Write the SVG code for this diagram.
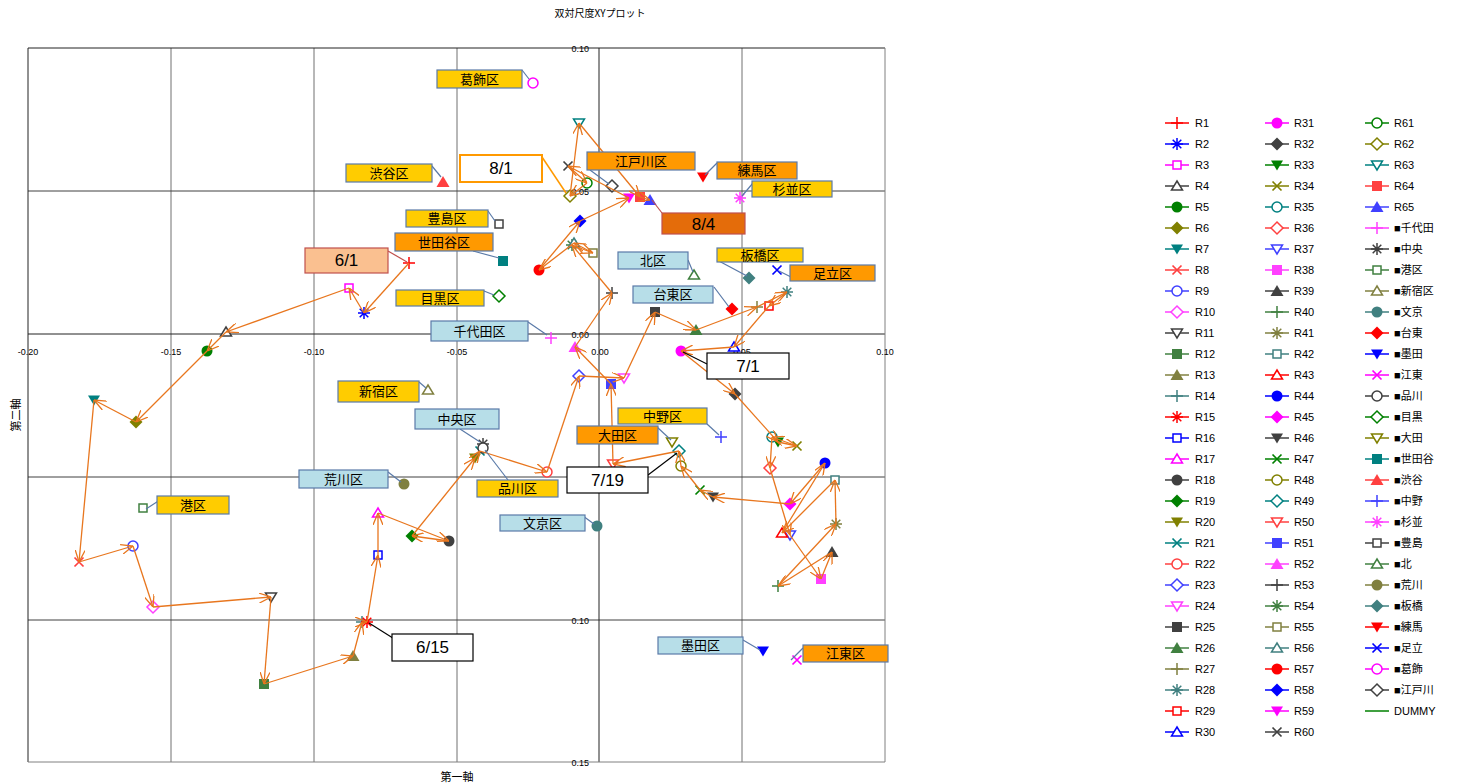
<svg xmlns="http://www.w3.org/2000/svg" width="1460" height="784" viewBox="0 0 1460 784">
<style>
.c0{color:#FF0000}.c1{color:#0000FF}.c2{color:#FF00FF}.c3{color:#404040}.c4{color:#008000}.c5{color:#808000}.c6{color:#008080}
.c7{color:#FF4040}.c8{color:#4040FF}.c9{color:#FF40FF}.c10{color:#404040}.c11{color:#408040}.c12{color:#808040}.c13{color:#408080}
.st{fill:none;stroke:currentColor;stroke-width:1.5}
.op{fill:#fff;stroke:currentColor;stroke-width:1.5}
.fl{fill:currentColor}
.gh{stroke:#404040;stroke-width:1}
.gv{stroke:#707070;stroke-width:1}
.tick{font-family:"Liberation Sans",Arial,sans-serif;font-size:9px;fill:#000}
.jp{font-family:"Noto Sans CJK JP","Noto Sans",sans-serif;fill:#000}
.arr line{stroke:#E8761E;stroke-width:1.3;marker-end:url(#ah)}
.lb rect{stroke:#5A7AA8;stroke-width:1.2}
.lb line{stroke:#5A7AA8;stroke-width:1.2}
.lb text{font-family:"Noto Sans CJK JP","Noto Sans",sans-serif;font-size:13px;fill:#000;text-anchor:middle}
.y{fill:#FFCC00}.o{fill:#FF9900}.b{fill:#B7DEE8}
.dt text{font-family:"Liberation Sans",Arial,sans-serif;font-size:17px;fill:#000;text-anchor:middle}
#legend line{stroke:currentColor;stroke-width:1.5}
#legend text{font-family:"Liberation Sans","Noto Sans CJK JP",sans-serif;font-size:11px;fill:#000}
</style>
<defs>
<marker id="ah" viewBox="0 0 12 10" refX="12" refY="5" markerWidth="12" markerHeight="10" orient="auto" markerUnits="userSpaceOnUse"><path d="M0,0L12,5L0,10" fill="none" stroke="#E8761E" stroke-width="1.3"/></marker>
<g id="m0"><path class="st" d="M-6,0H6M0,-6V6"/></g>
<g id="m1"><path class="st" d="M-6,0H6M0,-6V6M-4.3,-4.3L4.3,4.3M-4.3,4.3L4.3,-4.3"/></g>
<g id="m2"><rect class="op" x="-4" y="-4" width="8" height="8"/></g>
<g id="m3"><path class="op" d="M0,-5L5.5,4H-5.5Z"/></g>
<g id="m4"><circle class="fl" r="5.5"/></g>
<g id="m5"><path class="fl" d="M0,-6.5L6.5,0L0,6.5L-6.5,0Z"/></g>
<g id="m6"><path class="fl" d="M-6,-4.5H6L0,5.5Z"/></g>
<g id="m7"><path class="st" style="stroke-width:1.7" d="M-4.5,-4.5L4.5,4.5M-4.5,4.5L4.5,-4.5"/></g>
<g id="m8"><circle class="op" r="5"/></g>
<g id="m9"><path class="op" d="M0,-6L6,0L0,6L-6,0Z"/></g>
<g id="m10"><path class="op" d="M-5.5,-4H5.5L0,5Z"/></g>
<g id="m11"><rect class="fl" x="-5" y="-5" width="10" height="10"/></g>
<g id="m12"><path class="fl" d="M0,-6L6.5,5H-6.5Z"/></g>
</defs>
<rect width="1460" height="784" fill="#fff"/>
<text class="jp" x="600" y="17" font-size="10" text-anchor="middle">双対尺度XYプロット</text>
<g id="grid">
<line class="gv" x1="171" y1="48" x2="171" y2="762"/>
<line class="gv" x1="314" y1="48" x2="314" y2="762"/>
<line class="gv" x1="457" y1="48" x2="457" y2="762"/>
<line class="gv" x1="742" y1="48" x2="742" y2="762"/>
<line class="gh" x1="28" y1="191" x2="885" y2="191"/>
<line class="gh" x1="28" y1="477" x2="885" y2="477"/>
<line class="gh" x1="28" y1="620" x2="885" y2="620"/>
<line x1="28" y1="334" x2="885" y2="334" stroke="#222"/>
<line x1="599" y1="48" x2="599" y2="762" stroke="#222"/>
<path d="M28,762V48H885" fill="none" stroke="#222"/>
<path d="M885,48V762H28" fill="none" stroke="#808080"/>
</g>
<g id="ticks" class="tick">
<text x="28" y="355" text-anchor="middle">-0.20</text>
<text x="171" y="355" text-anchor="middle">-0.15</text>
<text x="314" y="355" text-anchor="middle">-0.10</text>
<text x="457" y="355" text-anchor="middle">-0.05</text>
<text x="600" y="355" text-anchor="middle">0.00</text>
<text x="742" y="355" text-anchor="middle">0.05</text>
<text x="885" y="355" text-anchor="middle">0.10</text>
<text x="589" y="52" text-anchor="end">0.10</text>
<text x="589" y="195" text-anchor="end">0.05</text>
<text x="589" y="338" text-anchor="end">0.00</text>
<text x="589" y="481" text-anchor="end">0.05</text>
<text x="589" y="624" text-anchor="end">0.10</text>
<text x="589" y="766" text-anchor="end">0.15</text>
</g>
<text class="jp" x="457" y="781" font-size="11" text-anchor="middle">第一軸</text>
<text class="jp" font-size="11" text-anchor="middle" transform="translate(20,415) rotate(-90)">第二軸</text>
<g id="points">
<use href="#m0" class="c0" x="409" y="263"/>
<use href="#m1" class="c1" x="364" y="313"/>
<use href="#m2" class="c2" x="349" y="288"/>
<use href="#m3" class="c3" x="226" y="332"/>
<use href="#m4" class="c4" x="207" y="351"/>
<use href="#m5" class="c5" x="136" y="422"/>
<use href="#m6" class="c6" x="94" y="400"/>
<use href="#m7" class="c7" x="79" y="562"/>
<use href="#m8" class="c8" x="133" y="546"/>
<use href="#m9" class="c9" x="153" y="607"/>
<use href="#m10" class="c10" x="271" y="597"/>
<use href="#m11" class="c11" x="264" y="684"/>
<use href="#m12" class="c12" x="353" y="656"/>
<use href="#m0" class="c13" x="362" y="622"/>
<use href="#m1" class="c0" x="367" y="622"/>
<use href="#m2" class="c1" x="378" y="555"/>
<use href="#m3" class="c2" x="378" y="513"/>
<use href="#m4" class="c3" x="449" y="541"/>
<use href="#m5" class="c4" x="412" y="536"/>
<use href="#m6" class="c5" x="475" y="458"/>
<use href="#m7" class="c6" x="480" y="451"/>
<use href="#m8" class="c7" x="547" y="472"/>
<use href="#m9" class="c8" x="579" y="376"/>
<use href="#m10" class="c9" x="624" y="378"/>
<use href="#m11" class="c10" x="655" y="312"/>
<use href="#m12" class="c11" x="696" y="330"/>
<use href="#m0" class="c12" x="757" y="307"/>
<use href="#m1" class="c13" x="787" y="292"/>
<use href="#m2" class="c0" x="769" y="306"/>
<use href="#m3" class="c1" x="734" y="347"/>
<use href="#m4" class="c2" x="681" y="351"/>
<use href="#m5" class="c3" x="735" y="394"/>
<use href="#m6" class="c4" x="778" y="442"/>
<use href="#m7" class="c5" x="797" y="446"/>
<use href="#m8" class="c6" x="772" y="437"/>
<use href="#m9" class="c7" x="770" y="468"/>
<use href="#m10" class="c8" x="790" y="535"/>
<use href="#m11" class="c9" x="821" y="579"/>
<use href="#m12" class="c10" x="832" y="552"/>
<use href="#m0" class="c11" x="778" y="586"/>
<use href="#m1" class="c12" x="836" y="524"/>
<use href="#m2" class="c13" x="835" y="480"/>
<use href="#m3" class="c0" x="782" y="533"/>
<use href="#m4" class="c1" x="825" y="463"/>
<use href="#m5" class="c2" x="790" y="504"/>
<use href="#m6" class="c3" x="713" y="497"/>
<use href="#m7" class="c4" x="700" y="490"/>
<use href="#m8" class="c5" x="681" y="466"/>
<use href="#m9" class="c6" x="679" y="451"/>
<use href="#m10" class="c7" x="613" y="464"/>
<use href="#m11" class="c8" x="611" y="384"/>
<use href="#m12" class="c9" x="575" y="347"/>
<use href="#m0" class="c10" x="612" y="293"/>
<use href="#m1" class="c11" x="572" y="245"/>
<use href="#m2" class="c12" x="593" y="253"/>
<use href="#m3" class="c13" x="574" y="243"/>
<use href="#m4" class="c0" x="539" y="270"/>
<use href="#m5" class="c1" x="580" y="221"/>
<use href="#m6" class="c2" x="629" y="198"/>
<use href="#m7" class="c3" x="568" y="166"/>
<use href="#m8" class="c4" x="587" y="183"/>
<use href="#m9" class="c5" x="570" y="196"/>
<use href="#m10" class="c6" x="579" y="123"/>
<use href="#m11" class="c7" x="640" y="197"/>
<use href="#m12" class="c8" x="650" y="200"/>
<use href="#m0" class="c9" x="551" y="338"/>
<use href="#m1" class="c10" x="483" y="444"/>
<use href="#m2" class="c11" x="143" y="508"/>
<use href="#m3" class="c12" x="428" y="390"/>
<use href="#m4" class="c13" x="597" y="526"/>
<use href="#m5" class="c0" x="732" y="309"/>
<use href="#m6" class="c1" x="763" y="651"/>
<use href="#m7" class="c2" x="797" y="660"/>
<use href="#m8" class="c3" x="483" y="448"/>
<use href="#m9" class="c4" x="499" y="296"/>
<use href="#m10" class="c5" x="672" y="442"/>
<use href="#m11" class="c6" x="503" y="261"/>
<use href="#m12" class="c7" x="443" y="182"/>
<use href="#m0" class="c8" x="721" y="437"/>
<use href="#m1" class="c9" x="740" y="198"/>
<use href="#m2" class="c10" x="499" y="224"/>
<use href="#m3" class="c11" x="694" y="275"/>
<use href="#m4" class="c12" x="404" y="484"/>
<use href="#m5" class="c13" x="749" y="278"/>
<use href="#m6" class="c0" x="703" y="177"/>
<use href="#m7" class="c1" x="777" y="270"/>
<use href="#m8" class="c2" x="533" y="83"/>
<use href="#m9" class="c3" x="612" y="186"/>
</g>
<g id="connectors" class="arr">
<line x1="409" y1="263" x2="364" y2="313"/>
<line x1="364" y1="313" x2="349" y2="288"/>
<line x1="349" y1="288" x2="226" y2="332"/>
<line x1="226" y1="332" x2="207" y2="351"/>
<line x1="207" y1="351" x2="136" y2="422"/>
<line x1="136" y1="422" x2="94" y2="400"/>
<line x1="94" y1="400" x2="79" y2="562"/>
<line x1="79" y1="562" x2="133" y2="546"/>
<line x1="133" y1="546" x2="153" y2="607"/>
<line x1="153" y1="607" x2="271" y2="597"/>
<line x1="271" y1="597" x2="264" y2="684"/>
<line x1="264" y1="684" x2="353" y2="656"/>
<line x1="353" y1="656" x2="362" y2="622"/>
<line x1="362" y1="622" x2="367" y2="622"/>
<line x1="367" y1="622" x2="378" y2="555"/>
<line x1="378" y1="555" x2="378" y2="513"/>
<line x1="378" y1="513" x2="449" y2="541"/>
<line x1="449" y1="541" x2="412" y2="536"/>
<line x1="412" y1="536" x2="475" y2="458"/>
<line x1="475" y1="458" x2="480" y2="451"/>
<line x1="480" y1="451" x2="547" y2="472"/>
<line x1="547" y1="472" x2="579" y2="376"/>
<line x1="579" y1="376" x2="624" y2="378"/>
<line x1="624" y1="378" x2="655" y2="312"/>
<line x1="655" y1="312" x2="696" y2="330"/>
<line x1="696" y1="330" x2="757" y2="307"/>
<line x1="757" y1="307" x2="787" y2="292"/>
<line x1="787" y1="292" x2="769" y2="306"/>
<line x1="769" y1="306" x2="734" y2="347"/>
<line x1="734" y1="347" x2="681" y2="351"/>
<line x1="681" y1="351" x2="735" y2="394"/>
<line x1="735" y1="394" x2="778" y2="442"/>
<line x1="778" y1="442" x2="797" y2="446"/>
<line x1="797" y1="446" x2="772" y2="437"/>
<line x1="772" y1="437" x2="770" y2="468"/>
<line x1="770" y1="468" x2="790" y2="535"/>
<line x1="790" y1="535" x2="821" y2="579"/>
<line x1="821" y1="579" x2="832" y2="552"/>
<line x1="832" y1="552" x2="778" y2="586"/>
<line x1="778" y1="586" x2="836" y2="524"/>
<line x1="836" y1="524" x2="835" y2="480"/>
<line x1="835" y1="480" x2="782" y2="533"/>
<line x1="782" y1="533" x2="825" y2="463"/>
<line x1="825" y1="463" x2="790" y2="504"/>
<line x1="790" y1="504" x2="713" y2="497"/>
<line x1="713" y1="497" x2="700" y2="490"/>
<line x1="700" y1="490" x2="681" y2="466"/>
<line x1="681" y1="466" x2="679" y2="451"/>
<line x1="679" y1="451" x2="613" y2="464"/>
<line x1="613" y1="464" x2="611" y2="384"/>
<line x1="611" y1="384" x2="575" y2="347"/>
<line x1="575" y1="347" x2="612" y2="293"/>
<line x1="612" y1="293" x2="572" y2="245"/>
<line x1="572" y1="245" x2="593" y2="253"/>
<line x1="593" y1="253" x2="574" y2="243"/>
<line x1="574" y1="243" x2="539" y2="270"/>
<line x1="539" y1="270" x2="580" y2="221"/>
<line x1="580" y1="221" x2="629" y2="198"/>
<line x1="629" y1="198" x2="568" y2="166"/>
<line x1="568" y1="166" x2="587" y2="183"/>
<line x1="587" y1="183" x2="570" y2="196"/>
<line x1="570" y1="196" x2="579" y2="123"/>
<line x1="579" y1="123" x2="640" y2="197"/>
<line x1="640" y1="197" x2="650" y2="200"/>
</g>
<g id="labels" class="lb">
<g id="lbl-katsushika"><line x1="522" y1="70" x2="529" y2="79"/><rect class="y" x="437" y="70" width="85" height="18"/><text x="479.5" y="84">葛飾区</text></g>
<g id="lbl-shibuya"><line x1="432" y1="166" x2="441" y2="177"/><rect class="y" x="346" y="164" width="86" height="18"/><text x="389" y="178">渋谷区</text></g>
<g id="lbl-toshima"><line x1="488" y1="211" x2="495" y2="221"/><rect class="y" x="406" y="210" width="82" height="17"/><text x="447" y="223">豊島区</text></g>
<g id="lbl-setagaya"><line x1="473" y1="251" x2="499" y2="258"/><rect class="o" x="395" y="233" width="98" height="18"/><text x="444" y="247">世田谷区</text></g>
<g id="lbl-meguro"><line x1="484" y1="291" x2="494" y2="295"/><rect class="y" x="396" y="290" width="88" height="16"/><text x="440" y="303">目黒区</text></g>
<g id="lbl-chiyoda"><line x1="528" y1="322" x2="547" y2="335"/><rect class="b" x="431" y="321" width="97" height="20"/><text x="479.5" y="336">千代田区</text></g>
<g id="lbl-shinjuku"><line x1="419" y1="382" x2="426" y2="388"/><rect class="y" x="338" y="381" width="81" height="21"/><text x="378.5" y="396">新宿区</text></g>
<g id="lbl-chuo"><line x1="460" y1="429" x2="480" y2="442"/><rect class="b" x="415" y="409" width="84" height="20"/><text x="457" y="424">中央区</text></g>
<g id="lbl-arakawa"><line x1="388" y1="472" x2="401" y2="482"/><rect class="b" x="299" y="470" width="89" height="18"/><text x="343.5" y="484">荒川区</text></g>
<g id="lbl-shinagawa"><line x1="508" y1="480" x2="485" y2="450"/><rect class="y" x="477" y="480" width="81" height="17"/><text x="517.5" y="493">品川区</text></g>
<g id="lbl-bunkyo"><line x1="583" y1="516" x2="594" y2="524"/><rect class="b" x="500" y="515" width="85" height="16"/><text x="542.5" y="528">文京区</text></g>
<g id="lbl-minato"><line x1="163" y1="498" x2="146" y2="509"/><rect class="y" x="157" y="496" width="72" height="18"/><text x="193" y="510">港区</text></g>
<g id="lbl-edogawa"><line x1="590" y1="170" x2="609" y2="184"/><rect class="o" x="587" y="152" width="108" height="18"/><text x="641" y="166">江戸川区</text></g>
<g id="lbl-nerima"><line x1="717" y1="163" x2="705" y2="175"/><rect class="o" x="717" y="162" width="80" height="17"/><text x="757" y="175">練馬区</text></g>
<g id="lbl-suginami"><line x1="753" y1="183" x2="742" y2="196"/><rect class="y" x="752" y="181" width="80" height="16"/><text x="792" y="194">杉並区</text></g>
<g id="lbl-kita"><line x1="688" y1="260" x2="693" y2="272"/><rect class="b" x="618" y="252" width="70" height="17"/><text x="653" y="265">北区</text></g>
<g id="lbl-itabashi"><line x1="717" y1="260" x2="747" y2="276"/><rect class="y" x="717" y="248" width="86" height="14"/><text x="760" y="260">板橋区</text></g>
<g id="lbl-adachi"><line x1="797" y1="280" x2="779" y2="271"/><rect class="o" x="790" y="265" width="85" height="16"/><text x="832.5" y="278">足立区</text></g>
<g id="lbl-taito"><line x1="714" y1="287" x2="729" y2="307"/><rect class="b" x="633" y="286" width="80" height="17"/><text x="673" y="299">台東区</text></g>
<g id="lbl-nakano"><line x1="707" y1="424" x2="719" y2="435"/><rect class="y" x="618" y="408" width="89" height="16"/><text x="662.5" y="421">中野区</text></g>
<g id="lbl-ota"><line x1="657" y1="427" x2="671" y2="440"/><rect class="o" x="577" y="426" width="81" height="18"/><text x="617.5" y="440">大田区</text></g>
<g id="lbl-sumida"><line x1="743" y1="640" x2="760" y2="650"/><rect class="b" x="658" y="637" width="85" height="17"/><text x="700.5" y="650">墨田区</text></g>
<g id="lbl-koto"><line x1="803" y1="648" x2="791" y2="660"/><rect class="o" x="803" y="645" width="85" height="17"/><text x="845.5" y="658">江東区</text></g>
</g>
<g id="dates" class="dt">
<g id="d-0601"><line x1="388" y1="251" x2="407" y2="262" stroke="#C0504D" stroke-width="1.2"/><rect x="305" y="248" width="83" height="25" fill="#FAC090" stroke="#C0504D" stroke-width="1.2"/><text x="346.5" y="266">6/1</text></g>
<g id="d-0801"><line x1="542" y1="157" x2="566" y2="193" stroke="#FF9900" stroke-width="1.5"/><rect x="460" y="155" width="82" height="27" fill="#fff" stroke="#FF9900" stroke-width="2"/><text x="501" y="174">8/1</text></g>
<g id="d-0804"><line x1="662" y1="213" x2="652" y2="200" stroke="#C0504D" stroke-width="1.2"/><rect x="662" y="213" width="83" height="21" fill="#E46C0A" stroke="#C0504D" stroke-width="1.2"/><text x="703.5" y="230">8/4</text></g>
<g id="d-0701"><line x1="707" y1="364" x2="683" y2="352" stroke="#000" stroke-width="1.2"/><rect x="707" y="353" width="82" height="26" fill="#fff" stroke="#000" stroke-width="1.2"/><text x="748" y="372">7/1</text></g>
<g id="d-0719"><line x1="648" y1="475" x2="677" y2="453" stroke="#000" stroke-width="1.2"/><rect x="567" y="467" width="81" height="26" fill="#fff" stroke="#000" stroke-width="1.2"/><text x="607.5" y="486">7/19</text></g>
<g id="d-0615"><line x1="396" y1="640" x2="369" y2="623" stroke="#000" stroke-width="1.2"/><rect x="392" y="634" width="81" height="27" fill="#fff" stroke="#000" stroke-width="1.2"/><text x="432.5" y="653">6/15</text></g>
</g>
<g id="legend">
<g class="c0" transform="translate(1165,123)"><line x2="24"/><use href="#m0" x="12"/><text x="30" y="4">R1</text></g>
<g class="c1" transform="translate(1165,144)"><line x2="24"/><use href="#m1" x="12"/><text x="30" y="4">R2</text></g>
<g class="c2" transform="translate(1165,165)"><line x2="24"/><use href="#m2" x="12"/><text x="30" y="4">R3</text></g>
<g class="c3" transform="translate(1165,186)"><line x2="24"/><use href="#m3" x="12"/><text x="30" y="4">R4</text></g>
<g class="c4" transform="translate(1165,207)"><line x2="24"/><use href="#m4" x="12"/><text x="30" y="4">R5</text></g>
<g class="c5" transform="translate(1165,228)"><line x2="24"/><use href="#m5" x="12"/><text x="30" y="4">R6</text></g>
<g class="c6" transform="translate(1165,249)"><line x2="24"/><use href="#m6" x="12"/><text x="30" y="4">R7</text></g>
<g class="c7" transform="translate(1165,270)"><line x2="24"/><use href="#m7" x="12"/><text x="30" y="4">R8</text></g>
<g class="c8" transform="translate(1165,291)"><line x2="24"/><use href="#m8" x="12"/><text x="30" y="4">R9</text></g>
<g class="c9" transform="translate(1165,312)"><line x2="24"/><use href="#m9" x="12"/><text x="30" y="4">R10</text></g>
<g class="c10" transform="translate(1165,333)"><line x2="24"/><use href="#m10" x="12"/><text x="30" y="4">R11</text></g>
<g class="c11" transform="translate(1165,354)"><line x2="24"/><use href="#m11" x="12"/><text x="30" y="4">R12</text></g>
<g class="c12" transform="translate(1165,375)"><line x2="24"/><use href="#m12" x="12"/><text x="30" y="4">R13</text></g>
<g class="c13" transform="translate(1165,396)"><line x2="24"/><use href="#m0" x="12"/><text x="30" y="4">R14</text></g>
<g class="c0" transform="translate(1165,417)"><line x2="24"/><use href="#m1" x="12"/><text x="30" y="4">R15</text></g>
<g class="c1" transform="translate(1165,438)"><line x2="24"/><use href="#m2" x="12"/><text x="30" y="4">R16</text></g>
<g class="c2" transform="translate(1165,459)"><line x2="24"/><use href="#m3" x="12"/><text x="30" y="4">R17</text></g>
<g class="c3" transform="translate(1165,480)"><line x2="24"/><use href="#m4" x="12"/><text x="30" y="4">R18</text></g>
<g class="c4" transform="translate(1165,501)"><line x2="24"/><use href="#m5" x="12"/><text x="30" y="4">R19</text></g>
<g class="c5" transform="translate(1165,522)"><line x2="24"/><use href="#m6" x="12"/><text x="30" y="4">R20</text></g>
<g class="c6" transform="translate(1165,543)"><line x2="24"/><use href="#m7" x="12"/><text x="30" y="4">R21</text></g>
<g class="c7" transform="translate(1165,564)"><line x2="24"/><use href="#m8" x="12"/><text x="30" y="4">R22</text></g>
<g class="c8" transform="translate(1165,585)"><line x2="24"/><use href="#m9" x="12"/><text x="30" y="4">R23</text></g>
<g class="c9" transform="translate(1165,606)"><line x2="24"/><use href="#m10" x="12"/><text x="30" y="4">R24</text></g>
<g class="c10" transform="translate(1165,627)"><line x2="24"/><use href="#m11" x="12"/><text x="30" y="4">R25</text></g>
<g class="c11" transform="translate(1165,648)"><line x2="24"/><use href="#m12" x="12"/><text x="30" y="4">R26</text></g>
<g class="c12" transform="translate(1165,669)"><line x2="24"/><use href="#m0" x="12"/><text x="30" y="4">R27</text></g>
<g class="c13" transform="translate(1165,690)"><line x2="24"/><use href="#m1" x="12"/><text x="30" y="4">R28</text></g>
<g class="c0" transform="translate(1165,711)"><line x2="24"/><use href="#m2" x="12"/><text x="30" y="4">R29</text></g>
<g class="c1" transform="translate(1165,732)"><line x2="24"/><use href="#m3" x="12"/><text x="30" y="4">R30</text></g>
<g class="c2" transform="translate(1265,123)"><line x2="24"/><use href="#m4" x="12"/><text x="29" y="4">R31</text></g>
<g class="c3" transform="translate(1265,144)"><line x2="24"/><use href="#m5" x="12"/><text x="29" y="4">R32</text></g>
<g class="c4" transform="translate(1265,165)"><line x2="24"/><use href="#m6" x="12"/><text x="29" y="4">R33</text></g>
<g class="c5" transform="translate(1265,186)"><line x2="24"/><use href="#m7" x="12"/><text x="29" y="4">R34</text></g>
<g class="c6" transform="translate(1265,207)"><line x2="24"/><use href="#m8" x="12"/><text x="29" y="4">R35</text></g>
<g class="c7" transform="translate(1265,228)"><line x2="24"/><use href="#m9" x="12"/><text x="29" y="4">R36</text></g>
<g class="c8" transform="translate(1265,249)"><line x2="24"/><use href="#m10" x="12"/><text x="29" y="4">R37</text></g>
<g class="c9" transform="translate(1265,270)"><line x2="24"/><use href="#m11" x="12"/><text x="29" y="4">R38</text></g>
<g class="c10" transform="translate(1265,291)"><line x2="24"/><use href="#m12" x="12"/><text x="29" y="4">R39</text></g>
<g class="c11" transform="translate(1265,312)"><line x2="24"/><use href="#m0" x="12"/><text x="29" y="4">R40</text></g>
<g class="c12" transform="translate(1265,333)"><line x2="24"/><use href="#m1" x="12"/><text x="29" y="4">R41</text></g>
<g class="c13" transform="translate(1265,354)"><line x2="24"/><use href="#m2" x="12"/><text x="29" y="4">R42</text></g>
<g class="c0" transform="translate(1265,375)"><line x2="24"/><use href="#m3" x="12"/><text x="29" y="4">R43</text></g>
<g class="c1" transform="translate(1265,396)"><line x2="24"/><use href="#m4" x="12"/><text x="29" y="4">R44</text></g>
<g class="c2" transform="translate(1265,417)"><line x2="24"/><use href="#m5" x="12"/><text x="29" y="4">R45</text></g>
<g class="c3" transform="translate(1265,438)"><line x2="24"/><use href="#m6" x="12"/><text x="29" y="4">R46</text></g>
<g class="c4" transform="translate(1265,459)"><line x2="24"/><use href="#m7" x="12"/><text x="29" y="4">R47</text></g>
<g class="c5" transform="translate(1265,480)"><line x2="24"/><use href="#m8" x="12"/><text x="29" y="4">R48</text></g>
<g class="c6" transform="translate(1265,501)"><line x2="24"/><use href="#m9" x="12"/><text x="29" y="4">R49</text></g>
<g class="c7" transform="translate(1265,522)"><line x2="24"/><use href="#m10" x="12"/><text x="29" y="4">R50</text></g>
<g class="c8" transform="translate(1265,543)"><line x2="24"/><use href="#m11" x="12"/><text x="29" y="4">R51</text></g>
<g class="c9" transform="translate(1265,564)"><line x2="24"/><use href="#m12" x="12"/><text x="29" y="4">R52</text></g>
<g class="c10" transform="translate(1265,585)"><line x2="24"/><use href="#m0" x="12"/><text x="29" y="4">R53</text></g>
<g class="c11" transform="translate(1265,606)"><line x2="24"/><use href="#m1" x="12"/><text x="29" y="4">R54</text></g>
<g class="c12" transform="translate(1265,627)"><line x2="24"/><use href="#m2" x="12"/><text x="29" y="4">R55</text></g>
<g class="c13" transform="translate(1265,648)"><line x2="24"/><use href="#m3" x="12"/><text x="29" y="4">R56</text></g>
<g class="c0" transform="translate(1265,669)"><line x2="24"/><use href="#m4" x="12"/><text x="29" y="4">R57</text></g>
<g class="c1" transform="translate(1265,690)"><line x2="24"/><use href="#m5" x="12"/><text x="29" y="4">R58</text></g>
<g class="c2" transform="translate(1265,711)"><line x2="24"/><use href="#m6" x="12"/><text x="29" y="4">R59</text></g>
<g class="c3" transform="translate(1265,732)"><line x2="24"/><use href="#m7" x="12"/><text x="29" y="4">R60</text></g>
<g class="c4" transform="translate(1365,123)"><line x2="24"/><use href="#m8" x="12"/><text x="29" y="4">R61</text></g>
<g class="c5" transform="translate(1365,144)"><line x2="24"/><use href="#m9" x="12"/><text x="29" y="4">R62</text></g>
<g class="c6" transform="translate(1365,165)"><line x2="24"/><use href="#m10" x="12"/><text x="29" y="4">R63</text></g>
<g class="c7" transform="translate(1365,186)"><line x2="24"/><use href="#m11" x="12"/><text x="29" y="4">R64</text></g>
<g class="c8" transform="translate(1365,207)"><line x2="24"/><use href="#m12" x="12"/><text x="29" y="4">R65</text></g>
<g class="c9" transform="translate(1365,228)"><line x2="24"/><use href="#m0" x="12"/><text x="29" y="4">■千代田</text></g>
<g class="c10" transform="translate(1365,249)"><line x2="24"/><use href="#m1" x="12"/><text x="29" y="4">■中央</text></g>
<g class="c11" transform="translate(1365,270)"><line x2="24"/><use href="#m2" x="12"/><text x="29" y="4">■港区</text></g>
<g class="c12" transform="translate(1365,291)"><line x2="24"/><use href="#m3" x="12"/><text x="29" y="4">■新宿区</text></g>
<g class="c13" transform="translate(1365,312)"><line x2="24"/><use href="#m4" x="12"/><text x="29" y="4">■文京</text></g>
<g class="c0" transform="translate(1365,333)"><line x2="24"/><use href="#m5" x="12"/><text x="29" y="4">■台東</text></g>
<g class="c1" transform="translate(1365,354)"><line x2="24"/><use href="#m6" x="12"/><text x="29" y="4">■墨田</text></g>
<g class="c2" transform="translate(1365,375)"><line x2="24"/><use href="#m7" x="12"/><text x="29" y="4">■江東</text></g>
<g class="c3" transform="translate(1365,396)"><line x2="24"/><use href="#m8" x="12"/><text x="29" y="4">■品川</text></g>
<g class="c4" transform="translate(1365,417)"><line x2="24"/><use href="#m9" x="12"/><text x="29" y="4">■目黒</text></g>
<g class="c5" transform="translate(1365,438)"><line x2="24"/><use href="#m10" x="12"/><text x="29" y="4">■大田</text></g>
<g class="c6" transform="translate(1365,459)"><line x2="24"/><use href="#m11" x="12"/><text x="29" y="4">■世田谷</text></g>
<g class="c7" transform="translate(1365,480)"><line x2="24"/><use href="#m12" x="12"/><text x="29" y="4">■渋谷</text></g>
<g class="c8" transform="translate(1365,501)"><line x2="24"/><use href="#m0" x="12"/><text x="29" y="4">■中野</text></g>
<g class="c9" transform="translate(1365,522)"><line x2="24"/><use href="#m1" x="12"/><text x="29" y="4">■杉並</text></g>
<g class="c10" transform="translate(1365,543)"><line x2="24"/><use href="#m2" x="12"/><text x="29" y="4">■豊島</text></g>
<g class="c11" transform="translate(1365,564)"><line x2="24"/><use href="#m3" x="12"/><text x="29" y="4">■北</text></g>
<g class="c12" transform="translate(1365,585)"><line x2="24"/><use href="#m4" x="12"/><text x="29" y="4">■荒川</text></g>
<g class="c13" transform="translate(1365,606)"><line x2="24"/><use href="#m5" x="12"/><text x="29" y="4">■板橋</text></g>
<g class="c0" transform="translate(1365,627)"><line x2="24"/><use href="#m6" x="12"/><text x="29" y="4">■練馬</text></g>
<g class="c1" transform="translate(1365,648)"><line x2="24"/><use href="#m7" x="12"/><text x="29" y="4">■足立</text></g>
<g class="c2" transform="translate(1365,669)"><line x2="24"/><use href="#m8" x="12"/><text x="29" y="4">■葛飾</text></g>
<g class="c3" transform="translate(1365,690)"><line x2="24"/><use href="#m9" x="12"/><text x="29" y="4">■江戸川</text></g>
<g class="c4" transform="translate(1365,711)"><line x2="24"/><text x="29" y="4">DUMMY</text></g>
</g>
</svg>
